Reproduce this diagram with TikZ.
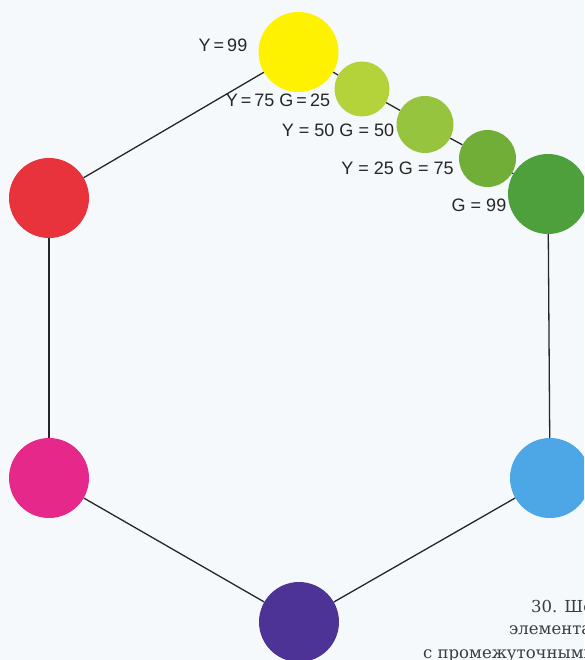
\documentclass[tikz,border=0pt]{standalone}
\usepackage{fontspec}
\newfontfamily\labelfont{Liberation Sans}
\newfontfamily\capfont{DejaVu Serif}
\definecolor{paper}{HTML}{F6F9FB}
\definecolor{cYellow}{HTML}{FFF200}
\definecolor{cG1}{HTML}{B4D23A}
\definecolor{cG2}{HTML}{97C43E}
\definecolor{cG3}{HTML}{70AE37}
\definecolor{cGreen}{HTML}{4DA03B}
\definecolor{cRed}{HTML}{E8333D}
\definecolor{cPink}{HTML}{E5288A}
\definecolor{cPurple}{HTML}{4D3396}
\definecolor{cBlue}{HTML}{4DA6E6}
\definecolor{ink}{HTML}{262626}
\tikzset{
  dot/.style={circle, inner sep=0pt, minimum size=#1},
  dot/.default=80pt,
  link/.style={draw=ink, line width=1.3pt},
  val/.style={font=\labelfont\fontsize{18}{21}\selectfont, text=ink, inner sep=0pt},
  captext/.style={font=\capfont\fontsize{16.5}{20}\selectfont, text=ink!90, inner sep=0pt, anchor=base west}
}
\begin{document}
\begin{tikzpicture}[x=1pt, y=-1pt]
  \useasboundingbox (0,0) rectangle (584,660);
  \fill[paper] (0,0) rectangle (584,660);
  \clip (0,0) rectangle (584,660);

  % hexagon of primaries
  \node[dot, fill=cYellow] (Y) at (298.5,52) {};
  \node[dot, fill=cRed] (R) at (49,198) {};
  \node[dot, fill=cPink] (M) at (49,478) {};
  \node[dot, fill=cPurple] (V) at (299,622) {};
  \node[dot, fill=cBlue] (B) at (550,478) {};
  \node[dot, fill=cGreen] (G) at (548,194) {};

  % intermediate steps between yellow and green
  \node[dot=55pt, fill=cG1] (s1) at (362,89) {};
  \node[dot=57pt, fill=cG2] (s2) at (425,124.5) {};
  \node[dot=57pt, fill=cG3] (s3) at (487.5,158.5) {};

  \draw[link] (Y) -- (R);
  \draw[link] (R) -- (M);
  \draw[link] (M) -- (V);
  \draw[link] (V) -- (B);
  \draw[link] (B) -- (G);
  \draw[link] (Y) -- (s1);
  \draw[link] (s1) -- (s2);
  \draw[link] (s2) -- (s3);
  \draw[link] (s3) -- (G);

  % values
  \node[val] (lY) at (223,45) {Y\,=\,99};
  \node[val] (l1) at (278,100) {Y\,=\,75 G\,=\,25};
  \node[val] (l2) at (338,130.5) {Y = 50 G = 50};
  \node[val] (l3) at (397.5,168.5) {Y = 25 G = 75};
  \node[val] (lG) at (479,205.5) {G = 99};

  % caption, running off the right edge
  \node[captext] (c1) at (531,612) {30. Ше};
  \node[captext] (c2) at (509,634) {элемента};
  \node[captext] (c3) at (423,658) {с промежуточными};
\end{tikzpicture}
\end{document}
